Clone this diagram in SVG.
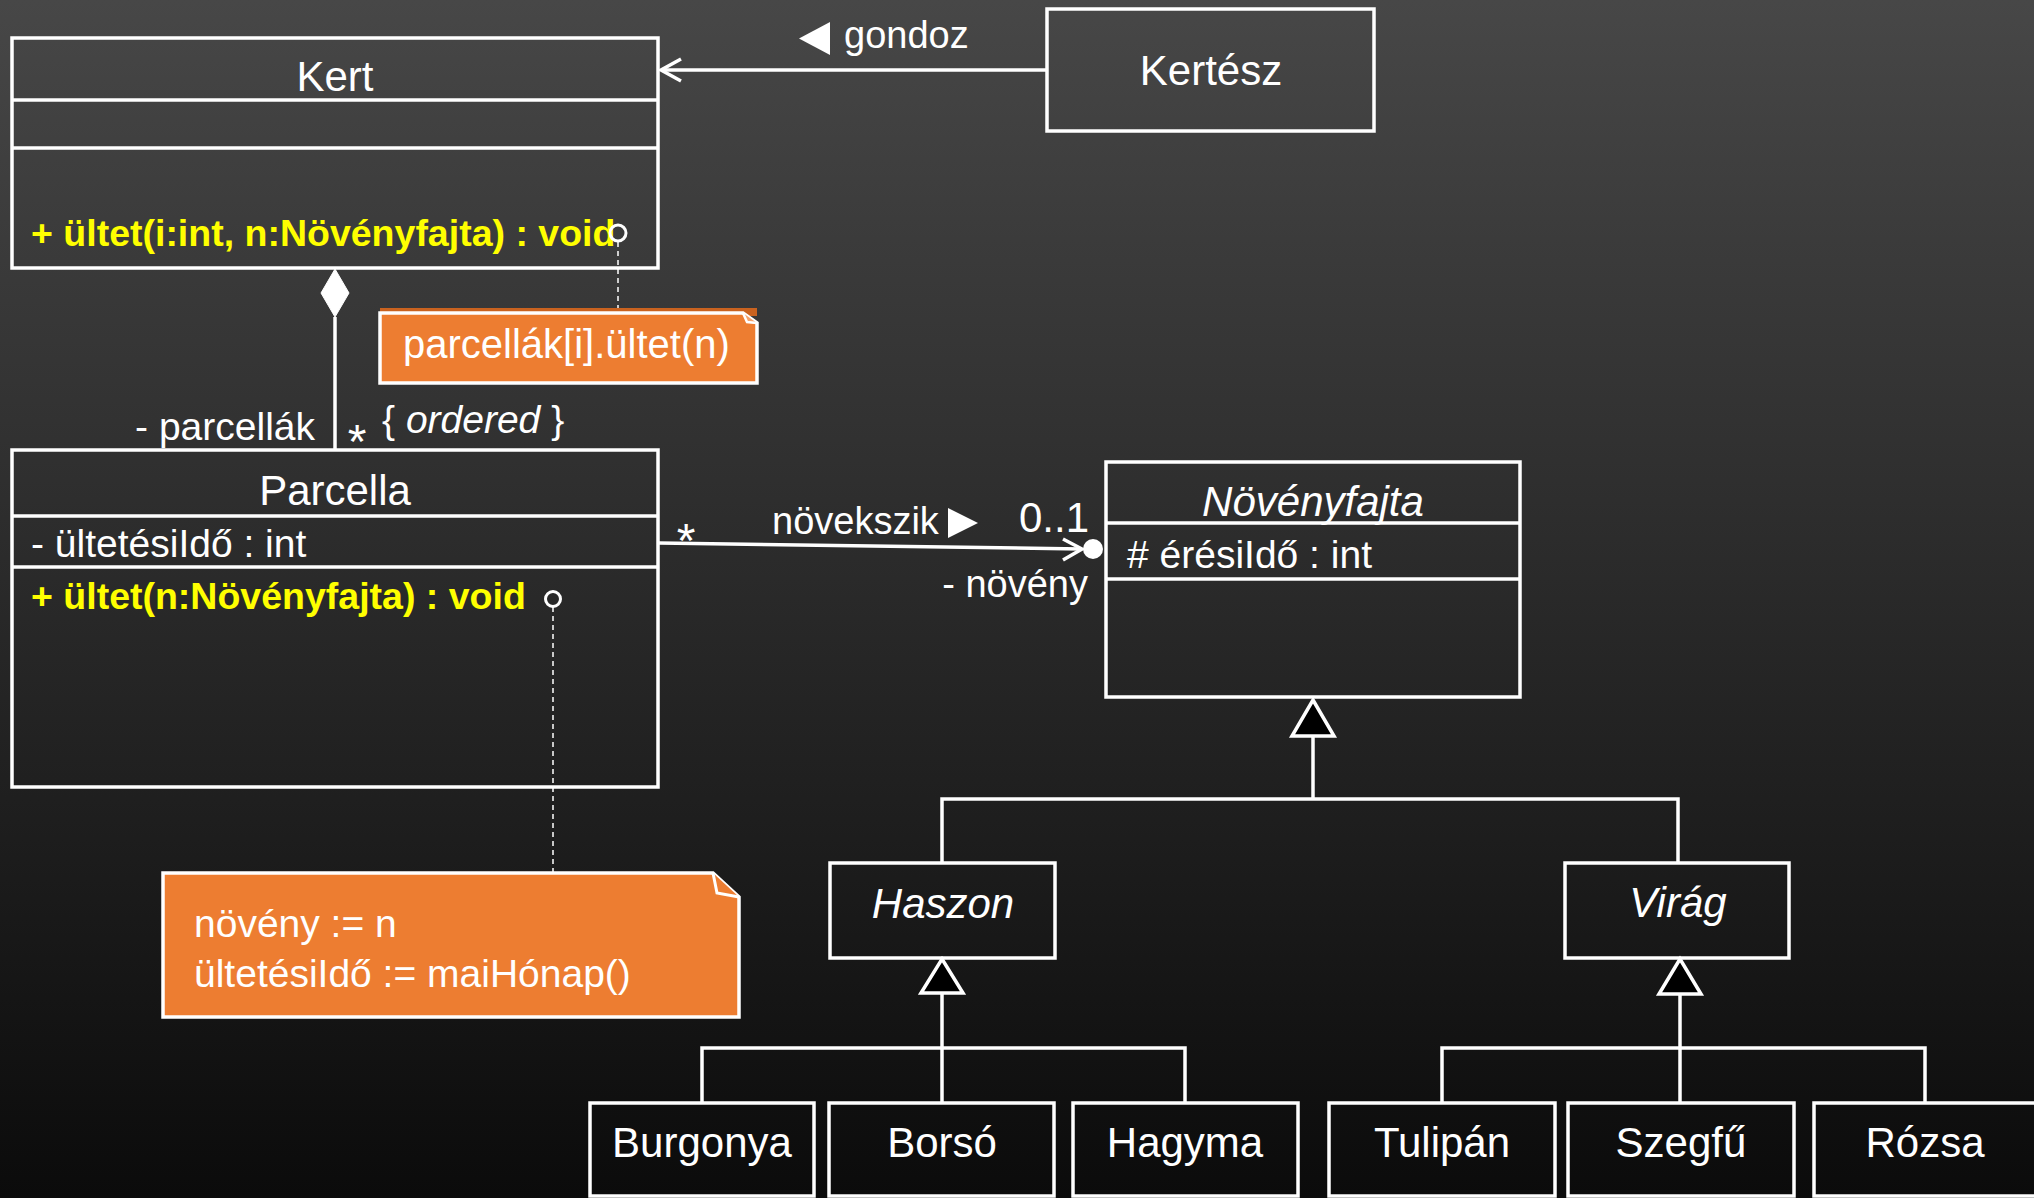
<svg xmlns="http://www.w3.org/2000/svg" width="2034" height="1198" viewBox="0 0 2034 1198">
  <defs>
    <linearGradient id="bg" x1="0" y1="0" x2="0" y2="1">
      <stop offset="0" stop-color="#474747"/>
      <stop offset="1" stop-color="#0b0b0b"/>
    </linearGradient>
    <style>
      text { font-family: "Liberation Sans", Arial, sans-serif; fill: #ffffff; }
      .box { fill: none; stroke: #ffffff; stroke-width: 3.5; }
      .sep { stroke: #ffffff; stroke-width: 3.5; }
      .title { font-size: 42px; text-anchor: middle; }
      .abs { font-style: italic; }
      .body { font-size: 39px; }
      .op { font-size: 37.5px; font-weight: bold; fill: #ffff00; }
      .lbl { font-size: 38px; }
      .star { font-size: 48px; text-anchor: middle; }
      .line { fill: none; stroke: #ffffff; stroke-width: 3.5; }
      .dash { fill: none; stroke: #ffffff; stroke-width: 1.5; stroke-dasharray: 5 4; }
      .gen { fill: #000000; stroke: #ffffff; stroke-width: 3.5; stroke-linejoin: miter; }
      .note { fill: #ED7D31; stroke: #ffffff; stroke-width: 3.5; }
      .port { fill: none; stroke: #ffffff; stroke-width: 3; }
    </style>
  </defs>

  <rect x="0" y="0" width="2034" height="1198" fill="url(#bg)"/>

  <!-- connectors -->
  <g id="connectors">
    <!-- Kertész gondoz Kert -->
    <line class="line" x1="1047" y1="70" x2="661" y2="70"/>
    <polyline class="line" points="681,59 661,70 681,81"/>
    <polygon points="799,38.5 830,22 830,55" fill="#ffffff"/>
    <text class="lbl" x="844" y="48" font-size="37">gondoz</text>

    <!-- composition Kert - Parcella -->
    <polygon points="335,269 349,293 335,317 321,293" fill="#ffffff" stroke="#ffffff" stroke-width="1"/>
    <line class="line" x1="335" y1="317" x2="335" y2="450"/>
    <text class="body" x="315" y="440" text-anchor="end">- parcellák</text>
    <text class="star" x="357" y="458">*</text>
    <text class="body" x="382" y="433">{ <tspan font-style="italic">ordered</tspan> }</text>

    <!-- association Parcella - Növényfajta -->
    <line class="line" x1="659" y1="543" x2="1082" y2="549"/>
    <polyline class="line" points="1063,539 1082,549 1063,560"/>
    <circle cx="1093" cy="549" r="10" fill="#ffffff"/>
    <text class="star" x="686" y="557">*</text>
    <text class="lbl" x="772" y="534">növekszik</text>
    <polygon points="948,508 978,523 948,538" fill="#ffffff"/>
    <text x="1019" y="532" font-size="42">0..1</text>
    <text class="lbl" x="1088" y="597" text-anchor="end">- növény</text>

    <!-- note anchors -->
    <line class="dash" x1="618" y1="242" x2="618" y2="309"/>
    <line class="dash" x1="553" y1="607" x2="553" y2="873"/>

    <!-- generalization: Haszon, Virág -> Növényfajta -->
    <polyline class="line" points="942,863 942,799 1678,799 1678,863"/>
    <line class="line" x1="1313" y1="799" x2="1313" y2="736"/>
    <polygon class="gen" points="1313,700 1334,736 1292,736"/>

    <!-- generalization: Burgonya, Borsó, Hagyma -> Haszon -->
    <polyline class="line" points="702,1103 702,1048 1185,1048 1185,1103"/>
    <line class="line" x1="942" y1="1103" x2="942" y2="993"/>
    <polygon class="gen" points="942,959 963,993 921,993"/>

    <!-- generalization: Tulipán, Szegfű, Rózsa -> Virág -->
    <polyline class="line" points="1442,1103 1442,1048 1925,1048 1925,1103"/>
    <line class="line" x1="1680" y1="1103" x2="1680" y2="994"/>
    <polygon class="gen" points="1680,959 1701,994 1659,994"/>
  </g>

  <!-- classes -->
  <g id="kert">
    <rect class="box" x="12" y="38" width="646" height="230"/>
    <line class="sep" x1="12" y1="100" x2="658" y2="100"/>
    <line class="sep" x1="12" y1="148" x2="658" y2="148"/>
    <text class="title" x="335" y="91">Kert</text>
    <text class="op" x="31" y="246">+ ültet(i:int, n:Növényfajta) : void</text>
    <circle class="port" cx="618" cy="233" r="8"/>
  </g>

  <g id="kertesz">
    <rect class="box" x="1047" y="9" width="327" height="122"/>
    <text class="title" x="1211" y="85" font-size="41">Kertész</text>
  </g>

  <g id="parcella">
    <rect class="box" x="12" y="450" width="646" height="337"/>
    <line class="sep" x1="12" y1="516" x2="658" y2="516"/>
    <line class="sep" x1="12" y1="567" x2="658" y2="567"/>
    <text class="title" x="335" y="505">Parcella</text>
    <text class="body" x="31" y="557">- ültetésiIdő : int</text>
    <text class="op" x="31" y="609">+ ültet(n:Növényfajta) : void</text>
    <circle class="port" cx="553" cy="599" r="7.5"/>
  </g>

  <g id="novenyfajta">
    <rect class="box" x="1106" y="462" width="414" height="235"/>
    <line class="sep" x1="1106" y1="523" x2="1520" y2="523"/>
    <line class="sep" x1="1106" y1="579" x2="1520" y2="579"/>
    <text class="title abs" x="1313" y="516" font-size="43">Növényfajta</text>
    <text class="body" x="1127" y="568">#  érésiIdő : int</text>
  </g>

  <g id="haszon">
    <rect class="box" x="830" y="863" width="225" height="95"/>
    <text class="title abs" x="943" y="918" font-size="40">Haszon</text>
  </g>

  <g id="virag">
    <rect class="box" x="1565" y="863" width="224" height="95"/>
    <text class="title abs" x="1678" y="917">Virág</text>
  </g>

  <g id="burgonya">
    <rect class="box" x="590" y="1103" width="224" height="93"/>
    <text class="title" x="702" y="1157">Burgonya</text>
  </g>
  <g id="borso">
    <rect class="box" x="829" y="1103" width="225" height="93"/>
    <text class="title" x="942" y="1157">Borsó</text>
  </g>
  <g id="hagyma">
    <rect class="box" x="1073" y="1103" width="225" height="93"/>
    <text class="title" x="1185" y="1157">Hagyma</text>
  </g>
  <g id="tulipan">
    <rect class="box" x="1329" y="1103" width="226" height="93"/>
    <text class="title" x="1442" y="1157">Tulipán</text>
  </g>
  <g id="szegfu">
    <rect class="box" x="1568" y="1103" width="226" height="93"/>
    <text class="title" x="1681" y="1157">Szegfű</text>
  </g>
  <g id="rozsa">
    <rect class="box" x="1814" y="1103" width="240" height="93"/>
    <text class="title" x="1925" y="1157">Rózsa</text>
  </g>

  <!-- notes -->
  <g id="note-kert">
    <rect x="380" y="308" width="377" height="8" fill="#C9621F"/>
    <path class="note" d="M380,313 H743 L757,323 V383 H380 Z"/>
    <path d="M743,313 L747,322 L757,323" fill="#F3A36E" stroke="#ffffff" stroke-width="2.5"/>
    <text x="403" y="358" font-size="40">parcellák[i].ültet(n)</text>
  </g>

  <g id="note-parcella">
    <path class="note" d="M163,873 H713 L739,897 V1017 H163 Z"/>
    <path d="M713,873 L717,893 L739,897" fill="#ED7D31" stroke="#ffffff" stroke-width="3"/>
    <text class="body" x="194" y="937">növény := n</text>
    <text class="body" x="194" y="987">ültetésiIdő := maiHónap()</text>
  </g>
</svg>
